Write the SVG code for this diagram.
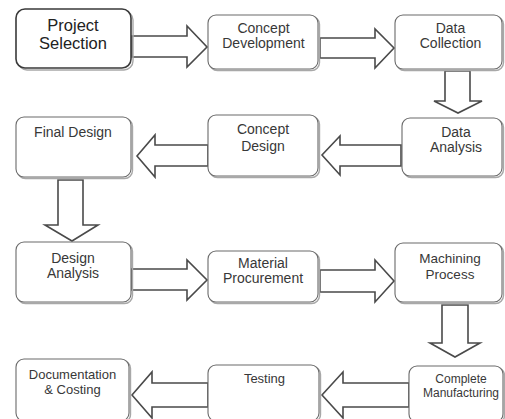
<svg xmlns="http://www.w3.org/2000/svg" width="505" height="419" viewBox="0 0 505 419">
<style>
.box{fill:#fff;stroke:#6a6a6a;stroke-width:1.1}
.sh{fill:none;stroke:#a8a8a8;stroke-width:1.4}
.arr{fill:#fff;stroke:#4a4a4a;stroke-width:1.6;stroke-linejoin:miter}
text{font-family:"Liberation Sans",Arial,sans-serif;fill:#383838;text-anchor:middle;font-size:14px}
</style>
<rect width="505" height="419" fill="#fff"/>
<g id="connectors">
<polygon class="arr" points="132,36 187,36 187,26 207,47 187,67 187,57 132,57"/>
<polygon class="arr" points="320,38 375,38 375,29 394,48 375,68 375,58 320,58"/>
<polygon class="arr" points="445,71 445,101 434,101 458,113 482,101 470,101 470,71"/>
<polygon class="arr" points="401,145 340,145 340,136 322,155 340,175 340,166 401,166"/>
<polygon class="arr" points="208,145 155,145 155,135 137,156 155,177 155,166 208,166"/>
<polygon class="arr" points="58,180 58,225 45,225 72,241 98,225 83,225 83,180"/>
<polygon class="arr" points="132,269 187,269 187,260 207,280 187,300 187,290 132,290"/>
<polygon class="arr" points="320,270 375,270 375,260 394,281 375,302 375,292 320,292"/>
<polygon class="arr" points="442,305 442,343 430,343 455,357 480,343 468,343 468,305"/>
<polygon class="arr" points="409,383 343,383 343,372 322,395 343,418 343,407 409,407"/>
<polygon class="arr" points="208,383 152,383 152,372 132,395 152,418 152,407 208,407"/>
</g>
<g id="n1">
<rect class="sh" x="18" y="11" width="115" height="59" rx="9"/>
<rect x="16" y="9" width="115" height="59" rx="9" fill="#fff" stroke="#3a3a3a" stroke-width="1.6"/>
<text x="73" y="31" style="font-size:16.5px;fill:#222">Project</text>
<text x="73" y="49" style="font-size:16.5px;fill:#222">Selection</text>
</g>
<g id="n2">
<rect class="sh" x="209.5" y="16.5" width="110" height="54" rx="8"/>
<rect class="box" x="208" y="15" width="110" height="54" rx="8"/>
<text x="263.5" y="33">Concept</text>
<text x="263.5" y="48">Development</text>
</g>
<g id="n3">
<rect class="sh" x="396.5" y="16.5" width="107" height="54" rx="8"/>
<rect class="box" x="395" y="15" width="107" height="54" rx="8"/>
<text x="450.5" y="33">Data</text>
<text x="450.5" y="48">Collection</text>
</g>
<g id="n4">
<rect class="sh" x="403.5" y="119.5" width="100" height="58" rx="8"/>
<rect class="box" x="402" y="118" width="100" height="58" rx="8"/>
<text x="456" y="137">Data</text>
<text x="456" y="152">Analysis</text>
</g>
<g id="n5">
<rect class="sh" x="209.5" y="116.5" width="110" height="61" rx="8"/>
<rect class="box" x="208" y="115" width="110" height="61" rx="8"/>
<text x="263" y="134">Concept</text>
<text x="263" y="151">Design</text>
</g>
<g id="n6">
<rect class="sh" x="17.5" y="118.5" width="115" height="60" rx="8"/>
<rect class="box" x="16" y="117" width="115" height="60" rx="8"/>
<text x="73" y="137">Final Design</text>
</g>
<g id="n7">
<rect class="sh" x="17.5" y="243.5" width="115" height="60" rx="8"/>
<rect class="box" x="16" y="242" width="115" height="60" rx="8"/>
<text x="73" y="263">Design</text>
<text x="73" y="278">Analysis</text>
</g>
<g id="n8">
<rect class="sh" x="209.5" y="252.5" width="110" height="51" rx="8"/>
<rect class="box" x="208" y="251" width="110" height="51" rx="8"/>
<text x="263" y="268">Material</text>
<text x="263" y="283">Procurement</text>
</g>
<g id="n9">
<rect class="sh" x="396.5" y="244.5" width="107" height="59" rx="8"/>
<rect class="box" x="395" y="243" width="107" height="59" rx="8"/>
<text x="450" y="263" style="font-size:13.5px">Machining</text>
<text x="450" y="279" style="font-size:13.5px">Process</text>
</g>
<g id="n10">
<rect class="sh" x="410.5" y="367.5" width="94" height="56" rx="8"/>
<rect class="box" x="409" y="366" width="94" height="56" rx="8"/>
<text x="461" y="383" style="font-size:12px">Complete</text>
<text x="461" y="397" style="font-size:12px">Manufacturing</text>
</g>
<g id="n11">
<rect class="sh" x="209.5" y="366.5" width="111" height="56" rx="8"/>
<rect class="box" x="208" y="365" width="111" height="56" rx="8"/>
<text x="264.5" y="383" style="font-size:13px">Testing</text>
</g>
<g id="n12">
<rect class="sh" x="17.5" y="360.5" width="113" height="62" rx="8"/>
<rect class="box" x="16" y="359" width="113" height="62" rx="8"/>
<text x="72.5" y="379" style="font-size:13px">Documentation</text>
<text x="72.5" y="394" style="font-size:13px">&amp; Costing</text>
</g>
</svg>
